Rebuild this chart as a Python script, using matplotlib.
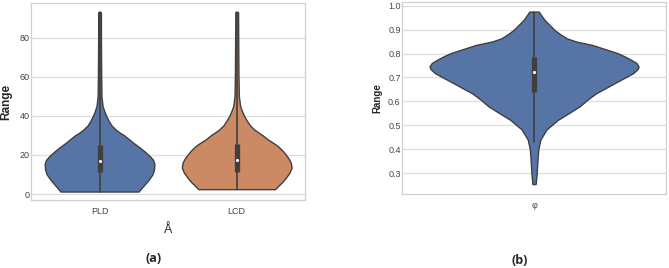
import numpy as np
import matplotlib
matplotlib.use("Agg")
import matplotlib.pyplot as plt
import seaborn as sns

sns.set_theme(style="whitegrid")
plt.rcParams["font.family"] = ["Liberation Sans", "DejaVu Sans"]

# ---- data ----
# violin outlines: value -> half-width (category units)
pld_vals = [1.3, 3, 5, 7.5, 10, 12.5, 15.5, 17.5, 19.5, 22, 24.5, 26, 28, 30, 31.5, 33, 35, 37.5, 40, 42.5, 45, 50, 60, 70, 80, 93]
pld_half = [0.285, 0.305, 0.33, 0.36, 0.385, 0.397, 0.40, 0.39, 0.365, 0.325, 0.28, 0.25, 0.215, 0.18, 0.145, 0.118, 0.088, 0.066, 0.048, 0.034, 0.022, 0.014, 0.012, 0.011, 0.010, 0.010]
lcd_vals = [2.5, 4, 6, 8.5, 11, 13.5, 16, 18, 20, 22.5, 24.5, 26, 28, 30, 31.5, 33, 35, 37.5, 40, 42.5, 45, 50, 60, 70, 80, 93]
lcd_half = [0.28, 0.30, 0.33, 0.36, 0.385, 0.40, 0.395, 0.38, 0.36, 0.33, 0.30, 0.27, 0.225, 0.19, 0.158, 0.128, 0.098, 0.074, 0.054, 0.038, 0.025, 0.016, 0.013, 0.012, 0.011, 0.010]
phi_vals = [0.255, 0.30, 0.358, 0.40, 0.441, 0.483, 0.524, 0.55, 0.58, 0.61, 0.635, 0.655, 0.677, 0.70, 0.718, 0.735, 0.746, 0.76, 0.773, 0.787, 0.801, 0.82, 0.836, 0.85, 0.863, 0.88, 0.898, 0.92, 0.94, 0.96, 0.975]
phi_half = [0.006, 0.010, 0.013, 0.016, 0.024, 0.047, 0.091, 0.13, 0.173, 0.205, 0.236, 0.27, 0.306, 0.345, 0.375, 0.392, 0.396, 0.388, 0.369, 0.345, 0.318, 0.265, 0.22, 0.16, 0.125, 0.10, 0.078, 0.058, 0.04, 0.027, 0.018]

# inner box: whisker low, q1, median, q3, whisker high
pld_box = [1.3, 11.5, 17.0, 25.0, 93]
lcd_box = [2.5, 11.5, 17.5, 25.5, 93]
phi_box = [0.43, 0.641, 0.724, 0.787, 0.975]

cats_a = ["PLD", "LCD"]
cats_b = ["φ"]
colors = ["#5675a6", "#cb8a63"]


def violin(ax, pos, vals, half, box, color):
    v = np.array(vals)
    h = np.array(half)
    ax.fill_betweenx(v, pos - h, pos + h, facecolor=color, edgecolor="#3f3f3f", lw=1.0, zorder=2)
    ax.plot([pos, pos], [box[0], box[4]], color="#3f3f3f", lw=1.2, zorder=3)
    ax.plot([pos, pos], [box[1], box[3]], color="#3f3f3f", lw=3.8, solid_capstyle="butt", zorder=3)
    ax.scatter([pos], [box[2]], s=5, color="white", zorder=4, linewidths=0)


fig = plt.figure(figsize=(6.69, 2.68), dpi=100)
ax1 = fig.add_axes([0.0463, 0.254, 0.410, 0.735])
ax2 = fig.add_axes([0.601, 0.276, 0.3946, 0.7164])

violin(ax1, 0, pld_vals, pld_half, pld_box, colors[0])
violin(ax1, 1, lcd_vals, lcd_half, lcd_box, colors[1])
violin(ax2, 0, phi_vals, phi_half, phi_box, colors[0])

ax1.set_xlim(-0.5, 1.5)
ax1.set_ylim(-3, 97.7)
ax1.set_xticks([0, 1], cats_a)
ax1.set_yticks([0, 20, 40, 60, 80])
ax1.set_ylabel("Range", fontsize=8.5, fontweight="bold")
ax1.yaxis.set_label_coords(-0.068, 0.5)
ax1.set_xlabel("Å", fontsize=9)
ax1.xaxis.set_label_coords(0.5, -0.12)

ax2.set_xlim(-0.5, 0.5)
ax2.set_ylim(0.2135, 1.015)
ax2.set_xticks([0], cats_b)
ax2.set_yticks(np.arange(3, 11) / 10)
ax2.set_ylabel("Range", fontsize=7, fontweight="bold")
ax2.yaxis.set_label_coords(-0.076, 0.5)

for ax in (ax1, ax2):
    ax.tick_params(labelsize=6.5, pad=1, length=0, colors="#444444")
    ax.tick_params(axis="x", pad=5)
    ax.grid(axis="x", visible=False)
    ax.grid(axis="y", color="#dddddd", lw=0.9)
    for s in ax.spines.values():
        s.set_color("#d0d0d0")
        s.set_linewidth(0.9)
    ax.set_axisbelow(True)

fig.text(154 / 669, 1 - 258 / 268, "(a)", ha="center", va="center", fontsize=9, fontweight="bold",
         family=["Open Sans", "DejaVu Sans"])
fig.text(520 / 669, 1 - 260 / 268, "(b)", ha="center", va="center", fontsize=9, fontweight="bold",
         family=["Open Sans", "DejaVu Sans"])

fig.savefig("out.png", dpi=100)
